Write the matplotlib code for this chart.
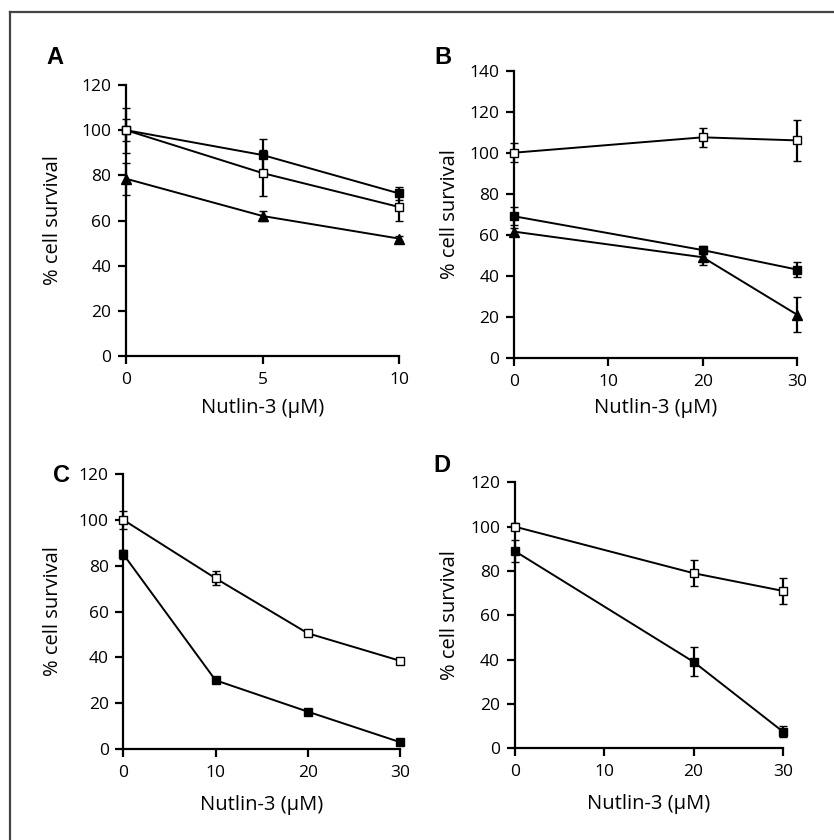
import matplotlib
matplotlib.use("Agg")
import matplotlib.pyplot as plt
from matplotlib.lines import Line2D

plt.rcParams['font.family'] = ['Open Sans', 'DejaVu Sans']

# ---- Data ----
# Panel A
xA = [0, 5, 10]
A_filled = [100, 89, 72]
A_filled_err = [10, 7, 3]
A_open = [100, 81, 66]
A_open_err = [5, 10, 6]
A_tri = [78.5, 62, 52]
A_tri_err = [7, 2, 1]

# Panel B
xB = [0, 20, 30]
B_open = [100, 107.5, 106]
B_open_err = [4.5, 4.5, 10]
B_filled = [69, 52.5, 43]
B_filled_err = [4.5, 2, 3.5]
B_tri = [61.5, 49, 21]
B_tri_err = [2, 4, 8.5]

# Panel C
xC = [0, 10, 20, 30]
C_open = [100, 74.5, 50.5, 38.5]
C_open_err = [4, 3, 1, 1]
C_filled = [85, 30, 16.3, 3]
C_filled_err = [2, 1, 1, 1]

# Panel D
xD = [0, 20, 30]
D_open = [100, 79, 71]
D_open_err = [1.5, 6, 6]
D_filled = [89, 39, 7.5]
D_filled_err = [5, 6.5, 2.5]

panels = [
    dict(label='A', rect=[126/834, 1-356/840, 273/834, 271/840], xlim=10, xticks=[0, 5, 10],
         ylim=120, yticks=list(range(0, 121, 20)), ypad=13, xpad=7,
         series=[(xA, A_filled, A_filled_err, 's', 'black'),
                 (xA, A_open, A_open_err, 's', 'white'),
                 (xA, A_tri, A_tri_err, '^', 'black')]),
    dict(label='B', rect=[514/834, 1-357.7/840, 283/834, 287/840], xlim=30, xticks=[0, 10, 20, 30],
         ylim=140, yticks=list(range(0, 141, 20)), ypad=7, xpad=6,
         series=[(xB, B_open, B_open_err, 's', 'white'),
                 (xB, B_filled, B_filled_err, 's', 'black'),
                 (xB, B_tri, B_tri_err, '^', 'black')]),
    dict(label='C', rect=[123.3/834, 1-749/840, 276.7/834, 275/840], xlim=30, xticks=[0, 10, 20, 30],
         ylim=120, yticks=list(range(0, 121, 20)), ypad=11, xpad=10,
         series=[(xC, C_open, C_open_err, 's', 'white'),
                 (xC, C_filled, C_filled_err, 's', 'black')]),
    dict(label='D', rect=[514.7/834, 1-748.3/840, 268.3/834, 266/840], xlim=30, xticks=[0, 10, 20, 30],
         ylim=120, yticks=list(range(0, 121, 20)), ypad=7, xpad=10,
         series=[(xD, D_open, D_open_err, 's', 'white'),
                 (xD, D_filled, D_filled_err, 's', 'black')]),
]

fig = plt.figure(figsize=(8.34, 8.40), dpi=100)

# partial frame (top and left lines)
fig.add_artist(Line2D([9.5/834, 1.0], [1-11.5/840, 1-11.5/840], transform=fig.transFigure,
                      color='#444444', lw=1.6))
fig.add_artist(Line2D([9.5/834, 9.5/834], [0.0, 1-11.5/840], transform=fig.transFigure,
                      color='#444444', lw=1.6))

for p in panels:
    ax = fig.add_axes(p['rect'])
    for x, y, e, m, fc in p['series']:
        ax.errorbar(x, y, yerr=e, fmt='-', color='black', lw=1.4, elinewidth=1.6,
                    capsize=3, capthick=1.6, marker=m, markersize=6 if m == 's' else 7.5,
                    markerfacecolor=fc, markeredgecolor='black', markeredgewidth=1.0,
                    clip_on=False, zorder=3)
    ax.set_xlim(0, p['xlim'])
    ax.set_ylim(0, p['ylim'])
    ax.set_xticks(p['xticks'])
    ax.set_yticks(p['yticks'])
    for s in ['top', 'right']:
        ax.spines[s].set_visible(False)
    for s in ['left', 'bottom']:
        ax.spines[s].set_linewidth(1.6)
    ax.tick_params(axis='x', direction='out', length=5.5, width=1.6, labelsize=12.5, pad=6)
    ax.tick_params(axis='y', direction='out', length=5.5, width=1.6, labelsize=12.5, pad=5)
    ax.set_xlabel('Nutlin-3 (μM)', fontsize=14.5, labelpad=p['xpad'])
    ax.set_ylabel('% cell survival', fontsize=14.5, labelpad=p['ypad'])

# panel letters
letters = [('A', 55, 57), ('B', 443, 57), ('C', 62, 475), ('D', 442, 465)]
for t, px, py in letters:
    fig.text(px/834, 1-py/840, t, fontsize=17, fontweight='bold', family=['Liberation Sans', 'DejaVu Sans'],
             ha='center', va='center')

fig.savefig('out.png', dpi=100)
